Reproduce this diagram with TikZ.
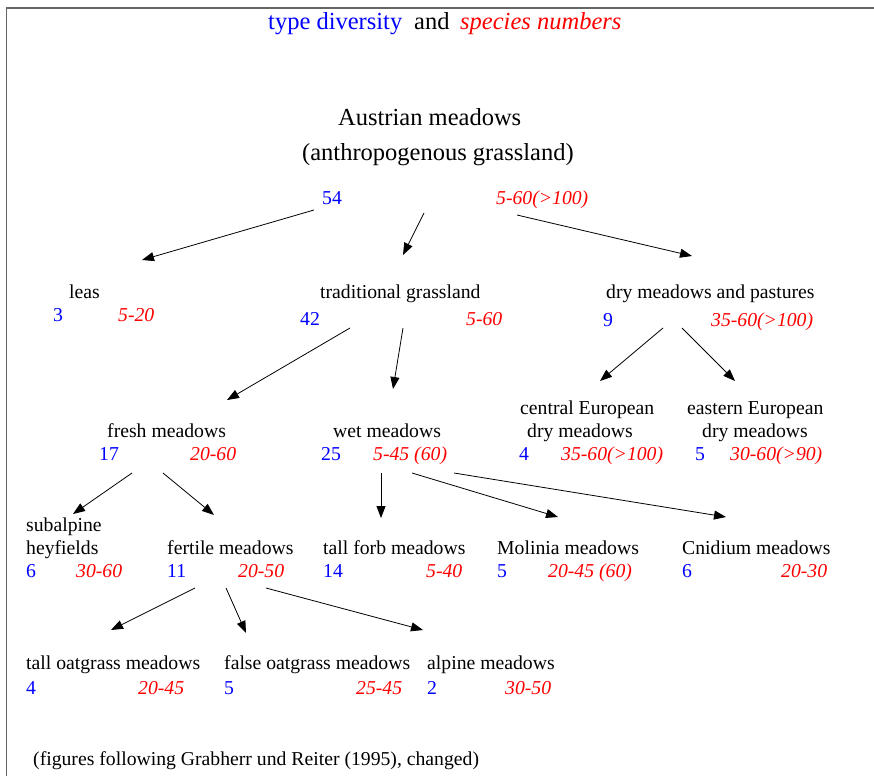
\documentclass[tikz,border=0pt]{standalone}
\usepackage{fontspec}
\setmainfont{Liberation Serif}
\usepackage{xcolor}
\usepackage{tikz}
\usetikzlibrary{arrows.meta}

\newcommand{\bodysize}{\fontsize{19.7}{23.6}\selectfont}
\newcommand{\titlesize}{\fontsize{24.5}{29}\selectfont}

\begin{document}
\begin{tikzpicture}[x=1pt,y=-1pt]

\tikzstyle{every node}=[anchor=base west, inner sep=0pt, font=\bodysize]
\tikzstyle{ttl}=[font=\titlesize]
\tikzstyle{num}=[text=blue]
\tikzstyle{rng}=[text=red, font=\bodysize\itshape]
\tikzstyle{arr}=[-{Triangle[length=12pt,width=9pt]}, line width=0.8]

\useasboundingbox (0,0) rectangle (874,776);

% frame %
\draw[black!60, line width=1.5] (6.5,776) -- (6.5,8) -- (874,8);

% title %
\node[ttl, text=blue] (td) at (268,30) {type diversity};
\node[ttl] (and) at (414,30) {and};
\node[ttl, text=red, font=\titlesize\itshape] (sn) at (460,30) {species numbers};

% nodes %
\node[ttl] (am) at (338,125) {Austrian meadows};
\node[ttl] (ag) at (302,160) {(anthropogenous grassland)};
\node[num] (amn) at (322,204) {54};
\node[rng] (amr) at (496,204) {5-60(>100)};

\node (le) at (69,298) {leas};
\node[num] (len) at (53,321) {3};
\node[rng] (ler) at (118,321) {5-20};

\node (tg) at (320,298) {traditional grassland};
\node[num] (tgn) at (300,325) {42};
\node[rng] (tgr) at (466,325) {5-60};

\node (dm) at (606,298) {dry meadows and pastures};
\node[num] (dmn) at (603,326) {9};
\node[rng] (dmr) at (711,326) {35-60(>100)};

\node (fm) at (107,437) {fresh meadows};
\node[num] (fmn) at (99,460) {17};
\node[rng] (fmr) at (190,460) {20-60};

\node (wm) at (333,437) {wet meadows};
\node[num] (wmn) at (321,460) {25};
\node[rng] (wmr) at (373,460) {5-45 (60)};

\node (ce) at (520,414) {central European};
\node (ced) at (527,437) {dry meadows};
\node[num] (cen) at (519,460) {4};
\node[rng] (cer) at (561,460) {35-60(>100)};

\node (ee) at (687,414) {eastern European};
\node (eed) at (702,437) {dry meadows};
\node[num] (een) at (695,460) {5};
\node[rng] (eer) at (730,460) {30-60(>90)};

\node (sa) at (26,531) {subalpine};
\node (sah) at (26,554) {heyfields};
\node[num] (san) at (26,577) {6};
\node[rng] (sar) at (76,577) {30-60};

\node (fe) at (167,554) {fertile meadows};
\node[num] (fen) at (167,577) {11};
\node[rng] (fer) at (238,577) {20-50};

\node (tf) at (323,554) {tall forb meadows};
\node[num] (tfn) at (323,577) {14};
\node[rng] (tfr) at (426,577) {5-40};

\node (mo) at (497,554) {Molinia meadows};
\node[num] (mon) at (497,577) {5};
\node[rng] (mor) at (548,577) {20-45 (60)};

\node (cn) at (682,554) {Cnidium meadows};
\node[num] (cnn) at (682,577) {6};
\node[rng] (cnr) at (781,577) {20-30};

\node (to) at (26,669) {tall oatgrass meadows};
\node[num] (ton) at (26,694) {4};
\node[rng] (tor) at (138,694) {20-45};

\node (fo) at (224,669) {false oatgrass meadows};
\node[num] (fon) at (224,694) {5};
\node[rng] (for) at (356,694) {25-45};

\node (al) at (427,669) {alpine meadows};
\node[num] (aln) at (427,694) {2};
\node[rng] (alr) at (505,694) {30-50};

\node (src) at (33,765) {(figures following Grabherr und Reiter (1995), changed)};

% arrow ends %
\coordinate (am-le) at (314,210);
\coordinate (am-tg) at (424,213);
\coordinate (am-dm) at (517,215);
\coordinate (le-in) at (142,260);
\coordinate (tg-in) at (403,255);
\coordinate (dm-in) at (692,256);

\coordinate (tg-fm) at (350,328);
\coordinate (tg-wm) at (403,328);
\coordinate (fm-in) at (227,400);
\coordinate (wm-in) at (393,389);
\coordinate (dm-ce) at (663,328);
\coordinate (dm-ee) at (682,328);
\coordinate (ce-in) at (600,381);
\coordinate (ee-in) at (735,381);

\coordinate (fm-sa) at (132,473);
\coordinate (fm-fe) at (163,473);
\coordinate (sa-in) at (73,514);
\coordinate (fe-in) at (214,515);
\coordinate (wm-tf) at (381,473);
\coordinate (wm-mo) at (412,473);
\coordinate (wm-cn) at (454,473);
\coordinate (tf-in) at (381,518);
\coordinate (mo-in) at (558,517);
\coordinate (cn-in) at (726,517);

\coordinate (fe-to) at (195,588);
\coordinate (fe-fo) at (226,588);
\coordinate (fe-al) at (266,588);
\coordinate (to-in) at (111,630);
\coordinate (fo-in) at (246,633);
\coordinate (al-in) at (423,630);

% edges %
\draw[arr] (am-le) -- (le-in);
\draw[arr] (am-tg) -- (tg-in);
\draw[arr] (am-dm) -- (dm-in);
\draw[arr] (tg-fm) -- (fm-in);
\draw[arr] (tg-wm) -- (wm-in);
\draw[arr] (dm-ce) -- (ce-in);
\draw[arr] (dm-ee) -- (ee-in);
\draw[arr] (fm-sa) -- (sa-in);
\draw[arr] (fm-fe) -- (fe-in);
\draw[arr] (wm-tf) -- (tf-in);
\draw[arr] (wm-mo) -- (mo-in);
\draw[arr] (wm-cn) -- (cn-in);
\draw[arr] (fe-to) -- (to-in);
\draw[arr] (fe-fo) -- (fo-in);
\draw[arr] (fe-al) -- (al-in);

\end{tikzpicture}
\end{document}
